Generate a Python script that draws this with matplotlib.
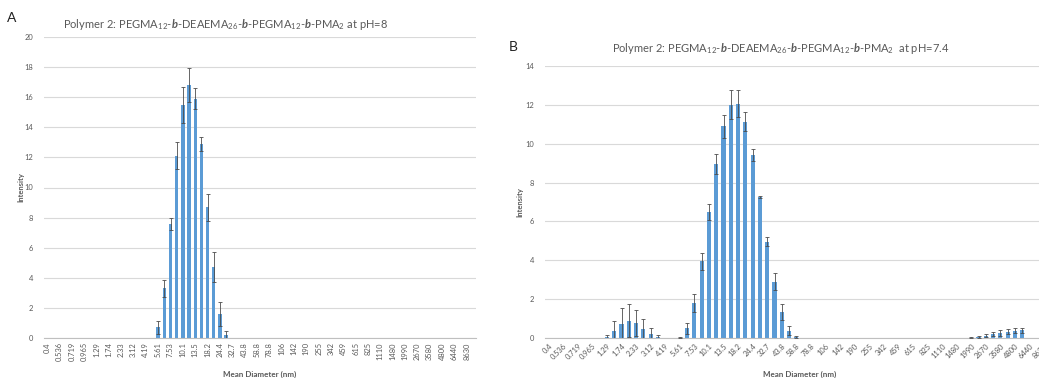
import numpy as np
import matplotlib
matplotlib.use("Agg")
import matplotlib.pyplot as plt

plt.rcParams['font.family'] = ['Lato', 'DejaVu Sans']
plt.rcParams['mathtext.fontset'] = 'custom'
plt.rcParams['mathtext.rm'] = 'Lato'
plt.rcParams['mathtext.it'] = 'Lato:italic'
plt.rcParams['mathtext.bf'] = 'Lato:bold'
plt.rcParams['mathtext.bfit'] = 'Lato:italic:bold'

# size bins (nm), as Excel shows them
diameters = ['0.4', '0.463', '0.536', '0.621', '0.719', '0.833', '0.965', '1.12', '1.29', '1.5',
             '1.74', '2.01', '2.33', '2.7', '3.12', '3.62', '4.19', '4.85', '5.61', '6.5',
             '7.53', '8.72', '10.1', '11.7', '13.5', '15.7', '18.2', '21', '24.4', '28.2',
             '32.7', '37.8', '43.8', '50.7', '58.8', '68.1', '78.8', '91.3', '106', '122',
             '142', '164', '190', '220', '255', '295', '342', '396', '459', '531',
             '615', '712', '825', '955', '1110', '1280', '1480', '1720', '1990', '2300',
             '2670', '3090', '3580', '4150', '4800', '5560', '6440', '7460', '8630', '10000']

# panel A, pH 8
int_ph8 = [0, 0, 0, 0, 0, 0, 0, 0, 0, 0,
           0, 0, 0, 0, 0, 0, 0, 0, 0.7, 3.3,
           7.6, 12.1, 15.5, 16.8, 15.9, 12.9, 8.7, 4.7, 1.6, 0.2,
           0, 0, 0, 0, 0, 0, 0, 0, 0, 0,
           0, 0, 0, 0, 0, 0, 0, 0, 0, 0,
           0, 0, 0, 0, 0, 0, 0, 0, 0, 0,
           0, 0, 0, 0, 0, 0, 0, 0, 0, 0]
err_ph8 = [0, 0, 0, 0, 0, 0, 0, 0, 0, 0,
           0, 0, 0, 0, 0, 0, 0, 0, 0.45, 0.55,
           0.4, 0.9, 1.2, 1.15, 0.7, 0.45, 0.9, 1.0, 0.8, 0.25,
           0, 0, 0, 0, 0, 0, 0, 0, 0, 0,
           0, 0, 0, 0, 0, 0, 0, 0, 0, 0,
           0, 0, 0, 0, 0, 0, 0, 0, 0, 0,
           0, 0, 0, 0, 0, 0, 0, 0, 0, 0]

# panel B, pH 7.4
int_ph74 = [0, 0, 0, 0, 0, 0, 0, 0, 0.03, 0.38,
            0.74, 0.89, 0.77, 0.46, 0.19, 0.04, 0, 0, 0.02, 0.5,
            1.8, 3.95, 6.5, 8.95, 10.9, 12.0, 12.06, 11.13, 9.42, 7.25,
            4.96, 2.9, 1.33, 0.38, 0.05, 0, 0, 0, 0, 0,
            0, 0, 0, 0, 0, 0, 0, 0, 0, 0,
            0, 0, 0, 0, 0, 0, 0, 0, 0.02, 0.05,
            0.12, 0.2, 0.27, 0.33, 0.38, 0.4, 0, 0, 0, 0]
err_ph74 = [0, 0, 0, 0, 0, 0, 0, 0, 0.13, 0.48,
            0.8, 0.86, 0.69, 0.52, 0.32, 0.1, 0, 0, 0.03, 0.27,
            0.48, 0.44, 0.41, 0.5, 0.6, 0.75, 0.7, 0.5, 0.3, 0.05,
            0.25, 0.45, 0.4, 0.25, 0.05, 0, 0, 0, 0, 0,
            0, 0, 0, 0, 0, 0, 0, 0, 0, 0,
            0, 0, 0, 0, 0, 0, 0, 0, 0.03, 0.05,
            0.08, 0.12, 0.15, 0.14, 0.12, 0.12, 0, 0, 0, 0]

W, H = 1039, 378
fig = plt.figure(figsize=(W / 100, H / 100), dpi=100)

bar_col = '#5B9BD5'
grid_col = '#D9D9D9'
txt_col = '#595959'


def px_axes(x0, y_top, x1, y_bot):
    return fig.add_axes([x0 / W, 1 - y_bot / H, (x1 - x0) / W, (y_bot - y_top) / H])


def draw_panel(ax, vals, errs, ymax, rot):
    x = np.arange(len(diameters))
    vals = np.array(vals)
    errs = np.array(errs)
    ax.bar(x, vals, width=0.55, color=bar_col, zorder=2)
    m = errs > 0
    ax.errorbar(x[m], vals[m], yerr=errs[m], fmt='none', ecolor='#4a4a4a',
                elinewidth=0.7, capsize=1.6, capthick=0.7, zorder=3, alpha=0.85)
    ax.set_xlim(-0.5, len(diameters) - 0.5)
    ax.set_ylim(0, ymax)
    ax.set_yticks(np.arange(0, ymax + 1, 2))
    ax.yaxis.grid(True, color=grid_col, lw=0.8)
    ax.set_axisbelow(True)
    for s in ['top', 'right', 'left']:
        ax.spines[s].set_visible(False)
    ax.spines['bottom'].set_color('#BFBFBF')
    ax.set_xticks(x[::2])
    if rot == 90:
        ax.set_xticklabels(diameters[::2], rotation=90, fontsize=5.4, color=txt_col)
    else:
        ax.set_xticklabels(diameters[::2], rotation=45, ha='right',
                           rotation_mode='anchor', fontsize=5.4, color=txt_col)
    ax.tick_params(axis='both', length=0, pad=3)
    ax.tick_params(axis='y', labelsize=5.4, labelcolor=txt_col, pad=8)


axA = px_axes(44, 37, 476, 338)
draw_panel(axA, int_ph8, err_ph8, 20, 90)
axA.set_ylabel('Intensity', fontsize=5.5, fontweight='bold', color=txt_col, labelpad=0)
axA.set_xlabel('Mean Diameter (nm)', fontsize=5.8, fontweight='bold', color=txt_col, labelpad=7)

axB = px_axes(545, 66, 1055, 338)
draw_panel(axB, int_ph74, err_ph74, 14, 45)
axB.set_ylabel('Intensity', fontsize=5.5, fontweight='bold', color=txt_col, labelpad=1)
axB.xaxis.set_label_coords((775 - 545) / 510, -0.12)
axB.set_xlabel('Mean Diameter (nm)', fontsize=5.8, fontweight='bold', color=txt_col)

formula = (r'PEGMA$_{12}$-$\mathbfit{b}$-DEAEMA$_{26}$-$\mathbfit{b}$-'
           r'PEGMA$_{12}$-$\mathbfit{b}$-PMA$_{2}$')
fig.text(226 / W, 1 - 24 / H, 'Polymer 2: ' + formula + ' at pH=8',
         ha='center', va='center', fontsize=8, color=txt_col)
fig.text(781 / W, 1 - 48 / H, 'Polymer 2: ' + formula + '  at pH=7.4',
         ha='center', va='center', fontsize=8, color=txt_col)

fig.text(12 / W, 1 - 18 / H, 'A', ha='center', va='center', fontsize=10, color='#222222')
fig.text(513 / W, 1 - 47 / H, 'B', ha='center', va='center', fontsize=10, color='#222222')

fig.savefig('out.png', dpi=100, facecolor='white')
